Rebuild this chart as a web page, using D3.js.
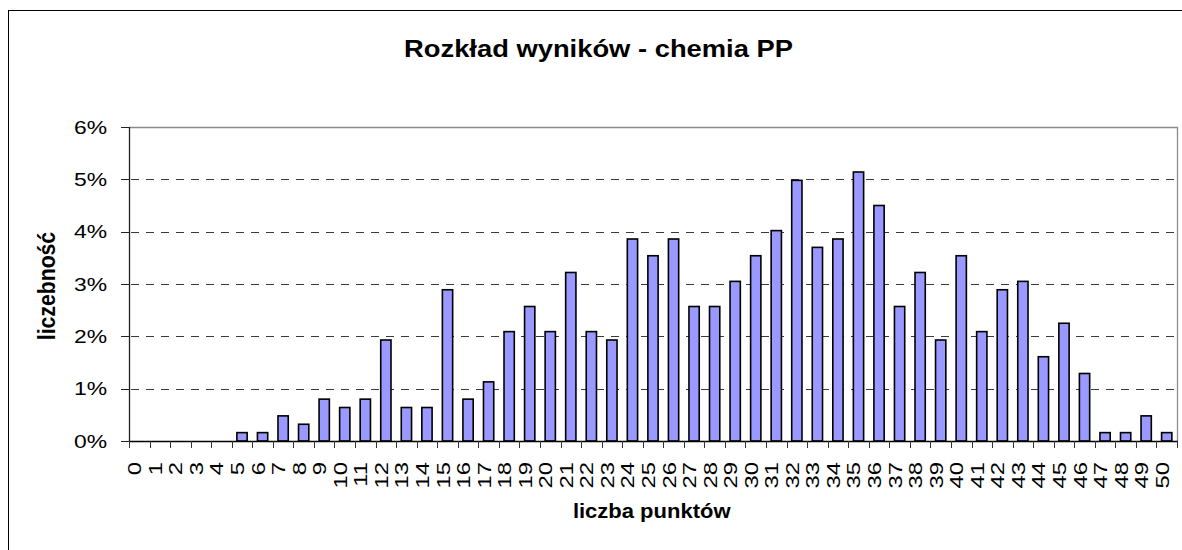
<!DOCTYPE html>
<html>
<head>
<meta charset="utf-8">
<script src="https://cdn.jsdelivr.net/npm/d3@7"></script>
<style>
  html, body { margin: 0; padding: 0; background: #fff; }
  svg { display: block; }
  text { font-family: "Liberation Sans", Arial, sans-serif; fill: #000; }
</style>
</head>
<body>
<svg id="chart" width="1182" height="550"></svg>
<script>
// ---- data (percent of students per score) ----
const categories = d3.range(0, 51).map(String);
const values = [
  0, 0, 0, 0, 0, 0.16, 0.16, 0.48, 0.32, 0.80,
  0.64, 0.80, 1.93, 0.64, 0.64, 2.89, 0.80, 1.13, 2.09, 2.57,
  2.09, 3.22, 2.09, 1.93, 3.86, 3.54, 3.86, 2.57, 2.57, 3.05,
  3.54, 4.02, 4.98, 3.70, 3.86, 5.14, 4.50, 2.57, 3.22, 1.93,
  3.54, 2.09, 2.89, 3.05, 1.61, 2.25, 1.29, 0.16, 0.16, 0.48,
  0.16
];
const yTicks = [0, 1, 2, 3, 4, 5, 6];
const titleText = "Rozkład wyników - chemia PP";
const xTitleText = "liczba punktów";
const yTitleText = "liczebność";

// ---- layout ----
const L = 129, R = 1177, T = 127, B = 441;
const svg = d3.select("#chart");

// outer chart border (left and top visible)
svg.append("rect")
  .attr("x", 8.5).attr("y", 10.5)
  .attr("width", 1300).attr("height", 700)
  .attr("fill", "none").attr("stroke", "#000").attr("stroke-width", 1);

const x = d3.scaleBand().domain(categories).range([L, R])
  .paddingInner(0.5).paddingOuter(0.25);
const y = d3.scaleLinear().domain([0, 6]).range([B, T]);

// gridlines (dashed)
svg.append("g").selectAll("line").data(yTicks.filter(d => d > 0 && d < 6)).join("line")
  .attr("x1", L).attr("x2", R)
  .attr("y1", d => Math.round(y(d)) + 0.5).attr("y2", d => Math.round(y(d)) + 0.5)
  .attr("stroke", "#3a3a3a").attr("stroke-width", 1)
  .attr("stroke-dasharray", "8,7").attr("stroke-dashoffset", -2);

// plot top/right border (gray)
svg.append("path")
  .attr("d", `M${L},${Math.round(y(6)) + 0.5}H${R + 0.5}V${B}`)
  .attr("fill", "none").attr("stroke", "#8c8c8c").attr("stroke-width", 1.3);

// bars
svg.append("g").selectAll("rect").data(values.map((v, i) => ({c: categories[i], v}))
    .filter(d => d.v > 0)).join("rect")
  .attr("x", d => x(d.c))
  .attr("y", d => y(d.v))
  .attr("width", x.bandwidth())
  .attr("height", d => y(0) - y(d.v))
  .attr("fill", "#9999FF")
  .attr("stroke", "#000").attr("stroke-width", 1.6);

// y axis
const yAxis = svg.append("g");
yAxis.append("line").attr("x1", L + 0.5).attr("x2", L + 0.5)
  .attr("y1", T).attr("y2", B + 1)
  .attr("stroke", "#222").attr("stroke-width", 1.3);
yAxis.selectAll("line.tick").data(yTicks).join("line").attr("class", "tick")
  .attr("x1", L - 8).attr("x2", L)
  .attr("y1", d => Math.round(y(d)) + 0.5).attr("y2", d => Math.round(y(d)) + 0.5)
  .attr("stroke", "#222").attr("stroke-width", 1);
yAxis.selectAll("text").data(yTicks).join("text")
  .attr("transform", d => `translate(107,${y(d) + 6.5}) scale(1.23,1)`)
  .attr("text-anchor", "end")
  .attr("font-size", 18.6)
  .text(d => d + "%");

// x axis
const xAxis = svg.append("g");
xAxis.append("line").attr("x1", L).attr("x2", R + 1)
  .attr("y1", B + 0.5).attr("y2", B + 0.5)
  .attr("stroke", "#000").attr("stroke-width", 1.3);
const step = x.step();
const bounds = categories.map(c => x(c) - step * 0.25).concat([R]);
xAxis.selectAll("line.tick").data(bounds).join("line").attr("class", "tick")
  .attr("x1", d => Math.round(d) + 0.5).attr("x2", d => Math.round(d) + 0.5)
  .attr("y1", B).attr("y2", B + 7)
  .attr("stroke", "#333").attr("stroke-width", 1);
xAxis.selectAll("text").data(categories).join("text")
  .attr("transform", d => `translate(${x(d) + x.bandwidth() / 2 + 2},462) rotate(-90) scale(1.29,1)`)
  .attr("text-anchor", "end")
  .attr("font-size", 18.5)
  .text(d => d);

// titles
svg.append("text")
  .attr("transform", "translate(598.5,56.7) scale(1.14,1)")
  .attr("text-anchor", "middle")
  .attr("font-size", 24).attr("font-weight", "bold")
  .text(titleText);

svg.append("text")
  .attr("transform", "translate(651.7,518) scale(1.10,1)")
  .attr("text-anchor", "middle")
  .attr("font-size", 20).attr("font-weight", "bold")
  .text(xTitleText);

svg.append("text")
  .attr("transform", "translate(55,286) rotate(-90) scale(1.06,1.2)")
  .attr("text-anchor", "middle")
  .attr("font-size", 20).attr("font-weight", "bold")
  .text(yTitleText);
</script>
</body>
</html>
